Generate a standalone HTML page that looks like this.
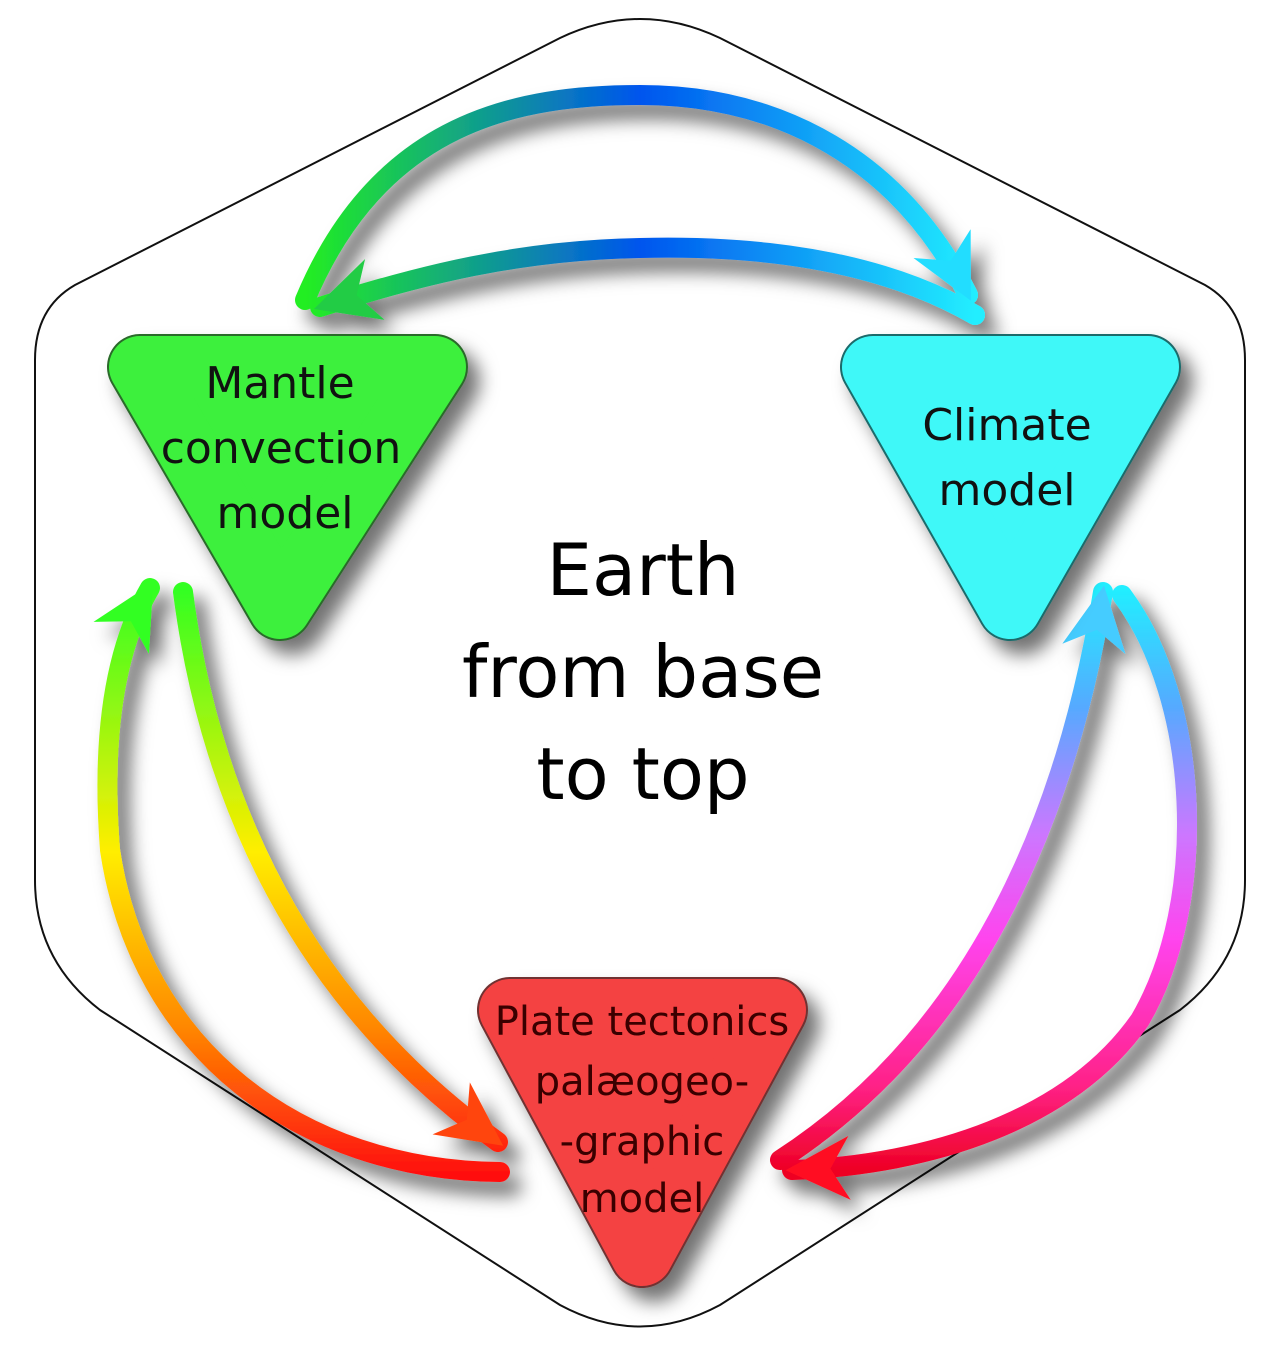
<!DOCTYPE html>
<html><head><meta charset="utf-8"><style>
html,body{margin:0;padding:0;background:#fff;width:1280px;height:1353px;overflow:hidden}
svg{display:block}
text{font-family:"DejaVu Sans","Liberation Sans",sans-serif;text-anchor:middle}
</style></head><body>
<svg width="1280" height="1353" viewBox="0 0 1280 1353" xmlns="http://www.w3.org/2000/svg">
<defs>
<filter id="sh" x="-30%" y="-30%" width="160%" height="160%">
<feDropShadow dx="12" dy="14" stdDeviation="9" flood-color="#000" flood-opacity="0.55"/>
</filter>
<linearGradient id="gt" gradientUnits="userSpaceOnUse" x1="305" y1="0" x2="975" y2="0">
<stop offset="0" stop-color="#22ee22"/><stop offset="0.5" stop-color="#0055ee"/><stop offset="1" stop-color="#22eeff"/>
</linearGradient>
<linearGradient id="gl" gradientUnits="userSpaceOnUse" x1="0" y1="590" x2="0" y2="1172">
<stop offset="0" stop-color="#33ff22"/><stop offset="0.45" stop-color="#ffee00"/><stop offset="0.75" stop-color="#ff8800"/><stop offset="1" stop-color="#ff1111"/>
</linearGradient>
<linearGradient id="gr" gradientUnits="userSpaceOnUse" x1="0" y1="590" x2="0" y2="1172">
<stop offset="0" stop-color="#22eeff"/><stop offset="0.2" stop-color="#55aaff"/><stop offset="0.42" stop-color="#cc77ff"/><stop offset="0.6" stop-color="#ff44ee"/><stop offset="0.85" stop-color="#ff2288"/><stop offset="1" stop-color="#ee0022"/>
</linearGradient>
<marker id="mc" viewBox="0 0 10 10" refX="9" refY="5" markerWidth="3.8" markerHeight="3.2" orient="auto" markerUnits="strokeWidth"><path d="M0,0 L10,5 L0,10 L3,5 z" fill="#22ddff"/></marker>
<marker id="mg" viewBox="0 0 10 10" refX="9" refY="5" markerWidth="3.8" markerHeight="3.2" orient="auto" markerUnits="strokeWidth"><path d="M0,0 L10,5 L0,10 L3,5 z" fill="#22cc44"/></marker>
<marker id="mo" viewBox="0 0 10 10" refX="9" refY="5" markerWidth="3.8" markerHeight="3.2" orient="auto" markerUnits="strokeWidth"><path d="M0,0 L10,5 L0,10 L3,5 z" fill="#ff4411"/></marker>
<marker id="mgr" viewBox="0 0 10 10" refX="9" refY="5" markerWidth="3.8" markerHeight="3.2" orient="auto" markerUnits="strokeWidth"><path d="M0,0 L10,5 L0,10 L3,5 z" fill="#33ff22"/></marker>
<marker id="mb" viewBox="0 0 10 10" refX="9" refY="5" markerWidth="3.8" markerHeight="3.2" orient="auto" markerUnits="strokeWidth"><path d="M0,0 L10,5 L0,10 L3,5 z" fill="#44ccff"/></marker>
<marker id="mr" viewBox="0 0 10 10" refX="9" refY="5" markerWidth="3.8" markerHeight="3.2" orient="auto" markerUnits="strokeWidth"><path d="M0,0 L10,5 L0,10 L3,5 z" fill="#ff1122"/></marker>
</defs>

<path d="M560,38 Q640,0 720,38 L1205,285 Q1245,308 1245,360 L1245,880 Q1245,960 1180,1010 L720,1305 Q640,1348 560,1305 L100,1010 Q35,960 35,880 L35,360 Q35,308 75,285 Z" fill="#fff" stroke="#111" stroke-width="2"/>

<g filter="url(#sh)" fill="none" stroke-width="20">
<path d="M305,300 C380,120 520,95 640,95 C780,95 900,160 968,295" stroke="url(#gt)" stroke-linecap="round" marker-end="url(#mc)"/>
<path d="M975,315 C880,260 760,245 640,248 C520,250 420,275 320,307" stroke="url(#gt)" stroke-linecap="round" marker-end="url(#mg)"/>
<path d="M183,592 C210,800 300,1000 498,1142" stroke="url(#gl)" stroke-linecap="round" marker-end="url(#mo)"/>
<path d="M500,1172 C300,1170 140,1050 110,850 C100,720 120,640 150,588" stroke="url(#gl)" stroke-linecap="round" marker-end="url(#mgr)"/>
<path d="M780,1160 C950,1050 1060,860 1103,592" stroke="url(#gr)" stroke-linecap="round" marker-end="url(#mb)"/>
<path d="M1122,595 C1200,700 1210,900 1140,1020 C1070,1120 930,1165 792,1170" stroke="url(#gr)" stroke-linecap="round" marker-end="url(#mr)"/>
</g>

<g filter="url(#sh)" stroke-linejoin="round">
<polygon points="140,367 435,367 280,608" fill="#2a6a2a" stroke="#2a6a2a" stroke-width="66"/>
<polygon points="873,367 1148,367 1010,608" fill="#1a6a6a" stroke="#1a6a6a" stroke-width="66"/>
<polygon points="510,1010 775,1010 642,1255" fill="#703030" stroke="#703030" stroke-width="66"/>
</g>
<g stroke-linejoin="round">
<polygon points="140,367 435,367 280,608" fill="#3df03d" stroke="#3df03d" stroke-width="62"/>
<polygon points="873,367 1148,367 1010,608" fill="#3ff8f8" stroke="#3ff8f8" stroke-width="62"/>
<polygon points="510,1010 775,1010 642,1255" fill="#f44242" stroke="#f44242" stroke-width="62"/>
</g>

<g fill="#111" font-size="44">
<text x="280" y="398">Mantle</text>
<text x="281" y="463">convection</text>
<text x="285" y="528">model</text>
<text x="1007" y="440">Climate</text>
<text x="1007" y="505">model</text>
</g>
<g fill="#3a0000" font-size="40">
<text x="642" y="1035">Plate tectonics</text>
<text x="642" y="1095">palæogeo-</text>
<text x="642" y="1155">-graphic</text>
<text x="642" y="1212">model</text>
</g>
<g fill="#000" font-size="72">
<text x="643" y="595">Earth</text>
<text x="643" y="697">from base</text>
<text x="643" y="799">to top</text>
</g>
</svg>
</body></html>
